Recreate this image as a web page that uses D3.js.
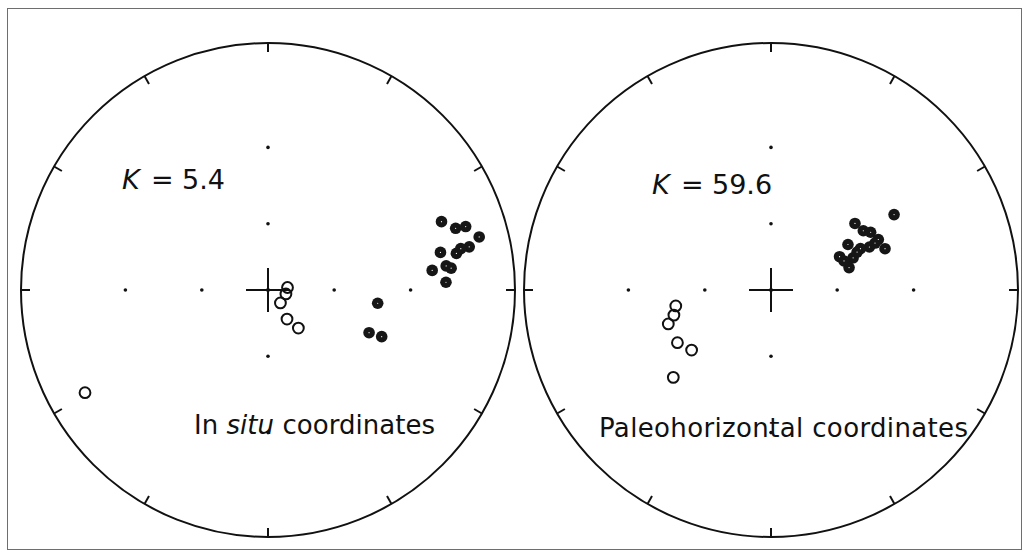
<!DOCTYPE html>
<html>
<head>
<meta charset="utf-8">
<script src="https://cdn.jsdelivr.net/npm/d3@7"></script>
<style>
  html, body { margin: 0; padding: 0; background: #fff; }
  svg { display: block; }
</style>
</head>
<body>
<svg id="chart" width="1029" height="554"></svg>
<script>
// Site-mean directions, [declination, inclination] in degrees.
// Positive inclination plots on the lower hemisphere (filled), negative on the upper (open).
const inSituNormal = [
  [68.5, 15.9], [71.8, 12.7], [72.2, 9.9], [75.9, 7.2], [77.9, 10.4],
  [79.0, 14.3], [77.9, 12.8], [77.7, 18.9], [83.2, 22.4], [82.3, 17.9],
  [83.2, 16.5], [87.5, 18.4], [96.9, 41.8], [112.9, 42.1], [112.3, 37.1]
];
const inSituReverse = [
  [82.7, -80.9], [102.5, -81.5], [136.1, -81.7], [146.8, -74.0], [141.4, -67.7], [240.7, -9.3]
];
const tiltNormal = [
  [58.5, 29.4], [51.6, 43.1], [57.3, 42.1], [59.9, 40.0], [64.8, 38.7],
  [70.1, 37.7], [66.4, 43.0], [65.2, 46.5], [59.4, 50.2], [64.1, 55.7],
  [68.6, 50.7], [74.0, 53.6], [66.2, 48.3], [65.7, 40.4], [68.3, 54.7]
];
const tiltReverse = [
  [260.5, -47.3], [255.5, -45.8], [251.7, -42.7], [240.6, -43.0], [232.9, -46.1], [228.2, -34.1]
];
const kValues = ["5.4", "59.6"];
const frameLabels = ["coordinates", "coordinates"];
const gridInclinations = [30, 60];
const gridDeclinations = [0, 90, 180, 270];
const tickDeclinations = d3.range(0, 360, 30);

const R = 247;
const rad = Math.PI / 180;
const svg = d3.select("#chart");

// outer frame
svg.append("rect")
  .attr("x", 7.5).attr("y", 8.5)
  .attr("width", 1014).attr("height", 541)
  .attr("fill", "none").attr("stroke", "#6e6e6e").attr("stroke-width", 1);

// stereographic (equal-angle) radial scale: tan of half the angle from vertical
const rho = d3.scaleLinear().domain([0, 1]).range([0, R]);
function project(dec, inc) {
  const r = rho(Math.tan((90 - Math.abs(inc)) * rad / 2));
  return [r * Math.sin(dec * rad), -r * Math.cos(dec * rad)];
}

const panels = [
  { cx: 268, cy: 290, normal: inSituNormal, reverse: inSituReverse,
    k: kValues[0], kx: 122, ky: 189,
    label: [["In ", "normal"], ["situ", "italic"], [" " + frameLabels[0], "normal"]],
    lx: 194, ly: 434, lw: 241 },
  { cx: 771, cy: 290, normal: tiltNormal, reverse: tiltReverse,
    k: kValues[1], kx: 652, ky: 194,
    label: [["Paleohorizontal " + frameLabels[1], "normal"]],
    lx: 599, ly: 437, lw: 369 }
];

const font = "'DejaVu Sans', 'Liberation Sans', sans-serif";

panels.forEach(p => {
  const g = svg.append("g").attr("transform", `translate(${p.cx},${p.cy})`);

  // primitive circle
  g.append("circle").attr("r", R)
    .attr("fill", "none").attr("stroke", "#111").attr("stroke-width", 2);

  // declination ticks every 30 degrees, pointing inward
  g.selectAll("line.tick").data(tickDeclinations).join("line")
    .attr("class", "tick")
    .attr("x1", d => R * Math.sin(d * rad))
    .attr("y1", d => -R * Math.cos(d * rad))
    .attr("x2", d => (R - 9) * Math.sin(d * rad))
    .attr("y2", d => -(R - 9) * Math.cos(d * rad))
    .attr("stroke", "#111").attr("stroke-width", 2);

  // inclination marks at 30 and 60 degrees on the cardinal axes
  const gridPts = [];
  gridDeclinations.forEach(d => gridInclinations.forEach(i => gridPts.push(project(d, i))));
  g.selectAll("circle.grid").data(gridPts).join("circle")
    .attr("class", "grid")
    .attr("cx", d => d[0]).attr("cy", d => d[1])
    .attr("r", 1.8).attr("fill", "#111");

  // centre cross
  g.append("line").attr("x1", -22).attr("x2", 22).attr("y1", 0).attr("y2", 0)
    .attr("stroke", "#111").attr("stroke-width", 2);
  g.append("line").attr("x1", 0).attr("x2", 0).attr("y1", -22).attr("y2", 22)
    .attr("stroke", "#111").attr("stroke-width", 2);
  g.append("circle").attr("r", 2).attr("fill", "#111");

  // upper-hemisphere directions
  g.selectAll("circle.up").data(p.reverse.map(d => project(d[0], d[1]))).join("circle")
    .attr("class", "up")
    .attr("cx", d => d[0]).attr("cy", d => d[1])
    .attr("r", 5.4).attr("fill", "none").attr("stroke", "#111").attr("stroke-width", 2);

  // lower-hemisphere directions
  const down = p.normal.map(d => project(d[0], d[1]));
  g.selectAll("circle.down").data(down).join("circle")
    .attr("class", "down")
    .attr("cx", d => d[0]).attr("cy", d => d[1])
    .attr("r", 5.8).attr("fill", "#161616");
  g.selectAll("circle.pin").data(down).join("circle")
    .attr("class", "pin")
    .attr("cx", d => d[0]).attr("cy", d => d[1])
    .attr("r", 0.6).attr("fill", "#fff");

  // precision parameter
  const kt = svg.append("text")
    .attr("x", p.kx).attr("y", p.ky)
    .attr("font-family", font).attr("font-size", 27).attr("fill", "#111");
  kt.append("tspan").attr("font-style", "italic").text("K");
  kt.append("tspan").attr("x", p.kx + 29).text("=");
  kt.append("tspan").attr("x", p.kx + 60).text(p.k);

  // coordinate-frame caption
  const lt = svg.append("text")
    .attr("x", p.lx).attr("y", p.ly)
    .attr("font-family", font).attr("font-size", 26).attr("fill", "#111")
    .attr("textLength", p.lw).attr("lengthAdjust", "spacing")
    .style("white-space", "pre");
  p.label.forEach(([t, s]) => lt.append("tspan").attr("font-style", s).text(t));
});
</script>
</body>
</html>
